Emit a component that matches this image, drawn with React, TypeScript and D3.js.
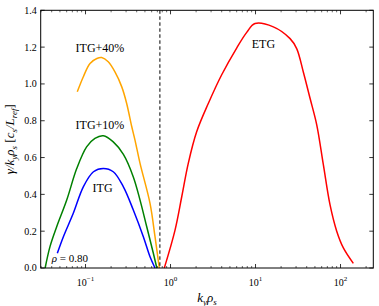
import * as React from 'react';
import * as d3 from 'd3';

// growth rates (k_y rho_s, gamma / k_y rho_s)
const itgK = [0.0466, 0.0549, 0.0718, 0.0942, 0.124, 0.162, 0.212, 0.279, 0.365, 0.479, 0.574, 0.657];
const itgG = [0.08, 0.17, 0.297, 0.441, 0.523, 0.541, 0.523, 0.441, 0.315, 0.17, 0.061, 0.0];

const itg10K = [0.0335, 0.0382, 0.0458, 0.0601, 0.0788, 0.103, 0.129, 0.162, 0.212, 0.279, 0.365, 0.438, 0.525, 0.628, 0.69];
const itg10G = [0.0, 0.116, 0.224, 0.369, 0.54, 0.658, 0.704, 0.718, 0.685, 0.617, 0.495, 0.369, 0.224, 0.08, 0.0];

const itg40K = [0.08, 0.094, 0.113, 0.136, 0.155, 0.185, 0.222, 0.267, 0.305, 0.349, 0.382, 0.438, 0.574, 0.657, 0.738];
const itg40G = [0.957, 1.038, 1.111, 1.138, 1.143, 1.12, 1.065, 0.984, 0.894, 0.77, 0.695, 0.568, 0.351, 0.17, 0.0];

const etgK = [0.845, 1.13, 1.355, 1.62, 2.03, 2.79, 4.0, 6.0, 7.88, 9.86, 16.2, 25.5, 30.5, 36.5, 43.8, 52.5, 62.8, 75.2, 90.2, 108, 141.5];
const etgG = [0.0, 0.206, 0.387, 0.57, 0.74, 0.895, 1.05, 1.195, 1.28, 1.328, 1.31, 1.246, 1.192, 1.065, 0.922, 0.778, 0.561, 0.344, 0.2, 0.109, 0.025];

const boundary = 0.75;

const xMajor = [0.1, 1, 10, 100];
const xExps = ['\u22121', '0', '1', '2'];
const yTicks = [0, 0.2, 0.4, 0.6, 0.8, 1.0, 1.2, 1.4];

const W = 379;
const H = 306;
const margin = { top: 10.3, right: 5.7, bottom: 38, left: 40.7 };
const serif = '"Liberation Serif", "DejaVu Serif", serif';

export default function App() {
  const iw = W - margin.left - margin.right;
  const ih = H - margin.top - margin.bottom;
  const x = d3.scaleLog().domain([0.0297, 243]).range([0, iw]);
  const y = d3.scaleLinear().domain([0, 1.4]).range([ih, 0]);

  const line = d3.line<[number, number]>()
    .x(d => x(d[0]))
    .y(d => y(d[1]))
    .curve(d3.curveCatmullRom.alpha(0.5));

  const series = [
    { k: itg40K, g: itg40G, color: '#ffa500' },
    { k: itg10K, g: itg10G, color: '#008000' },
    { k: itgK, g: itgG, color: '#0000ff' },
    { k: etgK, g: etgG, color: '#ff0000' },
  ];

  const xMinor = x.ticks().filter(t => !xMajor.some(m => Math.abs(m - t) / m < 1e-6));

  return (
    <svg width={W} height={H} style={{ position: 'absolute', left: 0, top: 0 }} fontFamily={serif}>
      <rect width={W} height={H} fill="#fff" />
      <g transform={`translate(${margin.left},${margin.top})`}>
        {series.map((s, i) => (
          <path key={i} d={line(s.k.map((k, j) => [k, s.g[j]] as [number, number])) || ''}
            fill="none" stroke={s.color} strokeWidth={1.5} strokeLinejoin="round" />
        ))}
        <line x1={x(boundary)} x2={x(boundary)} y1={0} y2={ih} stroke="#000" strokeWidth={1} strokeDasharray="3.5,2.5" />

        {/* ticks, inward on all sides */}
        {xMajor.map(t => (
          <g key={'xM' + t}>
            <line x1={x(t)} x2={x(t)} y1={ih} y2={ih - 4} stroke="#000" strokeWidth={0.8} />
            <line x1={x(t)} x2={x(t)} y1={0} y2={4} stroke="#000" strokeWidth={0.8} />
          </g>
        ))}
        {xMinor.map(t => (
          <g key={'xm' + t}>
            <line x1={x(t)} x2={x(t)} y1={ih} y2={ih - 2} stroke="#000" strokeWidth={0.6} />
            <line x1={x(t)} x2={x(t)} y1={0} y2={2} stroke="#000" strokeWidth={0.6} />
          </g>
        ))}
        {yTicks.map(t => (
          <g key={'y' + t}>
            <line x1={0} x2={4} y1={y(t)} y2={y(t)} stroke="#000" strokeWidth={0.8} />
            <line x1={iw} x2={iw - 4} y1={y(t)} y2={y(t)} stroke="#000" strokeWidth={0.8} />
            <text x={-4} y={y(t)} dy="0.35em" textAnchor="end" fontSize={10}>{t.toFixed(1)}</text>
          </g>
        ))}
        {xMajor.map((t, i) => (
          <text key={'xl' + t} x={x(t)} y={ih + 18} textAnchor="middle" fontSize={10}>
            10<tspan fontSize={7} dy={-4.5}>{xExps[i]}</tspan>
          </text>
        ))}
        <rect x={0} y={0} width={iw} height={ih} fill="none" stroke="#000" strokeWidth={1} />

        {/* annotations */}
        <text x={x(0.148)} y={y(1.172)} textAnchor="middle" fontSize={12}>ITG+40%</text>
        <text x={x(0.148)} y={y(0.754)} textAnchor="middle" fontSize={12}>ITG+10%</text>
        <text x={x(0.159)} y={y(0.415)} textAnchor="middle" fontSize={12}>ITG</text>
        <text x={x(12.4)} y={y(1.194)} textAnchor="middle" fontSize={12}>ETG</text>
        <text x={x(0.04)} y={y(0.031)} fontSize={11}>
          <tspan fontStyle="italic">ρ</tspan> = 0.80
        </text>

        {/* axis labels */}
        <text x={iw / 2} y={ih + 34} textAnchor="middle" fontSize={13} fontStyle="italic">
          k<tspan fontSize={9} dy={3}>y</tspan><tspan dy={-3}>ρ</tspan><tspan fontSize={9} dy={3}>s</tspan>
        </text>
        <text transform={`translate(${-27},${ih / 2}) rotate(-90)`} textAnchor="middle" fontSize={13} fontStyle="italic">
          γ/k<tspan fontSize={9} dy={3}>y</tspan><tspan dy={-3}>ρ</tspan><tspan fontSize={9} dy={3}>s</tspan>
          <tspan dy={-3} fontStyle="normal"> [</tspan>c<tspan fontSize={9} dy={3}>s</tspan><tspan dy={-3}>/L</tspan>
          <tspan fontSize={9} dy={3}>ref</tspan><tspan dy={-3} fontStyle="normal">]</tspan>
        </text>
      </g>
    </svg>
  );
}
